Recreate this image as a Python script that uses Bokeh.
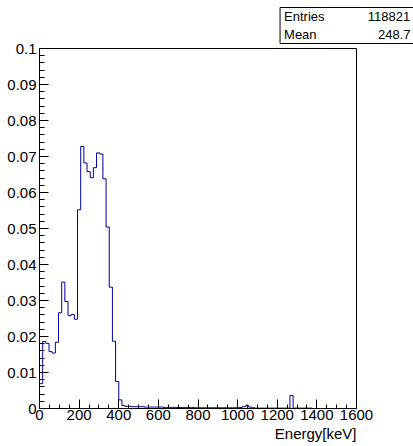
import numpy as np
from bokeh.plotting import figure
from bokeh.models import FixedTicker, Range1d, Title
from bokeh.embed import file_html
from bokeh.resources import INLINE

# Energy histogram: 100 bins of 16 keV from 0 to 1600 keV, normalised
bin_edges = list(range(0, 1601, 16))
fraction = [
    0.0069, 0.0186, 0.0181, 0.0158, 0.0154, 0.0184, 0.0266, 0.0351, 0.0297, 0.0258,
    0.0261, 0.0248, 0.0552, 0.0728, 0.0682, 0.0658, 0.0641, 0.0669, 0.0710, 0.0707,
    0.0638, 0.0504, 0.0337, 0.0187, 0.0075, 0.0024, 0.0008, 0.0006, 0.0006, 0.0005,
    0.0005, 0.0005, 0.0005, 0.0004, 0.0004, 0.0004, 0.0004, 0.0004, 0.0004, 0.0003,
    0.0003, 0.0003, 0.0003, 0.0003, 0.0003, 0.0003, 0.0003, 0.0003, 0.0003, 0.0002,
    0.0002, 0.0002, 0.0002, 0.0002, 0.0002, 0.0002, 0.0002, 0.0002, 0.0002, 0.0002,
    0.0002, 0.0002, 0.0003, 0.0003, 0.0005, 0.0008, 0.0004, 0.0002, 0.0001, 0.0001,
    0.0001, 0.0001, 0.0001, 0.0001, 0.0001, 0.0001, 0.0001, 0.0001, 0.0001, 0.0036,
    0.0001, 0.0001, 0.0001, 0.0001, 0.0001, 0.0001, 0.0, 0.0, 0.0, 0.0,
    0.0, 0.0, 0.0, 0.0, 0.0, 0.0, 0.0, 0.0, 0.0, 0.0,
]

x_ticks = [0, 200, 400, 600, 800, 1000, 1200, 1400, 1600]
x_tick_labels = ["0", "200", "400", "600", "800", "1000", "1200", "1400", "1600"]
y_ticks = [0, 0.01, 0.02, 0.03, 0.04, 0.05, 0.06, 0.07, 0.08, 0.09, 0.1]
y_tick_labels = ["0", "0.01", "0.02", "0.03", "0.04", "0.05", "0.06", "0.07", "0.08", "0.09", "0.1"]

stat_names = ["Entries", "Mean"]
stat_values = ["118821", "248.7"]
x_title = "Energy[keV]"

FONT = "Liberation Sans"
NBSP = "\u00a0"

p = figure(
    width=413, height=446, output_backend="svg", toolbar_location=None,
    x_range=Range1d(0, 1600), y_range=Range1d(0, 0.1),
    min_border_left=39, min_border_right=57, min_border_top=48, min_border_bottom=38,
)
p.grid.visible = False
p.background_fill_color = "white"
p.border_fill_color = "white"
p.outline_line_color = "black"
p.outline_line_width = 1
p.outline_line_alpha = 1

for ax in (p.xaxis[0], p.yaxis[0]):
    ax.axis_line_color = "black"
    ax.axis_line_width = 1
    ax.major_tick_line_color = "black"
    ax.minor_tick_line_color = "black"
    ax.major_tick_in = 9
    ax.major_tick_out = 0
    ax.minor_tick_out = 0
    ax.major_label_text_font = FONT
    ax.major_label_text_font_size = "15px"
    ax.major_label_text_color = "black"

p.xaxis.ticker = FixedTicker(ticks=x_ticks, minor_ticks=list(range(0, 1601, 50)))
p.xaxis.major_label_overrides = dict(zip(x_ticks, x_tick_labels))
p.xaxis.minor_tick_in = 4
p.xaxis.major_label_standoff = 1

p.yaxis.ticker = FixedTicker(ticks=y_ticks, minor_ticks=[i * 0.002 for i in range(51)])
p.yaxis.major_label_overrides = dict(zip(y_ticks, y_tick_labels))
p.yaxis.minor_tick_in = 5
p.yaxis.major_label_standoff = 3

# histogram outline
xs = [0] + bin_edges
ys = [0] + fraction + [fraction[-1]]
p.step(x=xs, y=ys, mode="after", line_color="#000099", line_width=1)

# axis title, right-aligned under the x axis
p.add_layout(Title(text=x_title, align="right", offset=0, standoff=0,
                   text_font=FONT, text_font_size="15px", text_font_style="normal",
                   text_color="black"), "below")

# statistics box in the top margin, numbers right-aligned; it runs past the right edge
pad = [12, 17]
stat_lines = [n + NBSP * k + v for n, k, v in zip(stat_names, pad, stat_values)]
p.add_layout(Title(text="\n".join(stat_lines), align="right", offset=-59, standoff=10,
                   padding=dict(left=4, right=5, top=1, bottom=2),
                   text_font=FONT, text_font_size="13px", text_line_height=1.2,
                   text_font_style="normal", text_color="black",
                   background_fill_color="white", border_line_color="black",
                   border_line_width=1), "above")

open("out.html", "w").write(file_html(p, INLINE))
